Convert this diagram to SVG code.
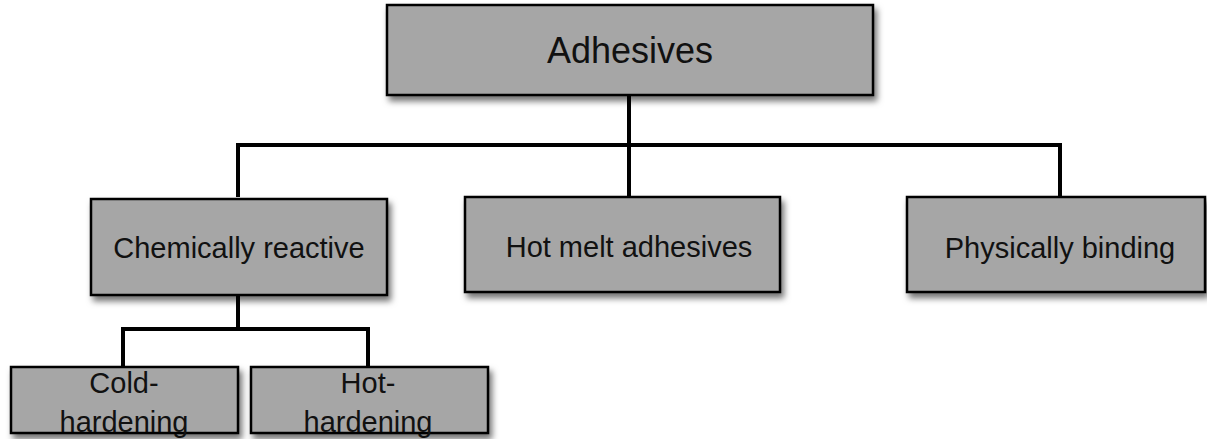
<svg xmlns="http://www.w3.org/2000/svg" width="1207" height="439" viewBox="0 0 1207 439">
<defs>
<filter id="sh" x="-10%" y="-20%" width="130%" height="160%">
<feDropShadow dx="3" dy="5" stdDeviation="3" flood-color="#000" flood-opacity="0.55"/>
</filter>
<style>
.box{fill:#a6a6a6;stroke:#000;stroke-width:2.5;filter:url(#sh)}
.t{font-family:"Liberation Sans",Arial,sans-serif;fill:#111;text-anchor:middle}
.m{font-size:29px}
.big{font-size:36px}
.c{fill:none;stroke:#000;stroke-width:4;stroke-linejoin:miter;stroke-linecap:butt}
</style>
</defs>
<rect width="1207" height="439" fill="#fff"/>
<g id="connectors">
<path class="c" d="M629 95 V145 M238 197 V145 H1060 V197 M629 145 V197"/>
<path class="c" d="M238 295 V329 M123 367 V329 H368 V367"/>
</g>
<g id="adhesives">
<rect class="box" x="387" y="5" width="486" height="90"/>
<text class="t big" x="630" y="63">Adhesives</text>
</g>
<g id="chemically-reactive">
<rect class="box" x="91" y="199" width="296" height="96"/>
<text class="t m" x="239" y="258">Chemically reactive</text>
</g>
<g id="hot-melt">
<rect class="box" x="465" y="197" width="315" height="95"/>
<text class="t m" x="629" y="257">Hot melt adhesives</text>
</g>
<g id="physically-binding">
<rect class="box" x="907" y="197" width="298" height="95"/>
<text class="t m" x="1060" y="258">Physically binding</text>
</g>
<g id="cold-hardening">
<rect class="box" x="11" y="367" width="227" height="66"/>
<text class="t m" x="124" y="393">Cold-</text>
<text class="t m" x="124" y="432">hardening</text>
</g>
<g id="hot-hardening">
<rect class="box" x="251" y="367" width="237" height="66"/>
<text class="t m" x="368" y="393">Hot-</text>
<text class="t m" x="368" y="432">hardening</text>
</g>
</svg>
